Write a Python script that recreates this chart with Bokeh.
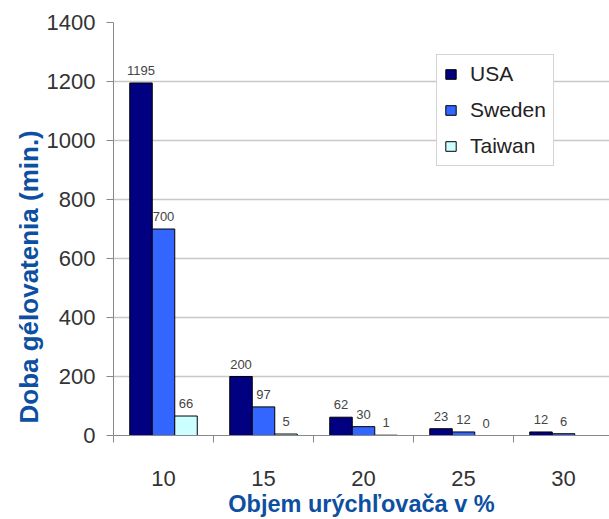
from bokeh.plotting import figure
from bokeh.models import ColumnDataSource, FixedTicker, Range1d, Title
from bokeh.core.properties import value
from bokeh.embed import file_html
from bokeh.resources import INLINE

categories = ["10", "15", "20", "25", "30"]
usa = [1195, 200, 62, 23, 12]
sweden = [700, 97, 30, 12, 6]
taiwan = [66, 5, 1, 0, None]
series_names = ["USA", "Sweden", "Taiwan"]
series_colors = ["#000080", "#3366ff", "#ccffff"]
y_ticks = [0, 200, 400, 600, 800, 1000, 1200, 1400]

FONT = "Liberation Sans"
TITLE_BLUE = "#0d4fa0"

p = figure(width=609, height=519, output_backend="svg", toolbar_location=None,
           x_range=Range1d(0.5, 5.46), y_range=Range1d(0, 1400),
           min_border_left=113, min_border_right=0, min_border_top=22, min_border_bottom=84)
p.outline_line_color = None
p.background_fill_color = "white"
p.xgrid.grid_line_color = None
p.ygrid.grid_line_color = "#c8c8c8"
p.ygrid.grid_line_width = 1.5

pos = list(range(1, len(categories) + 1))
bar_w = 0.225
offsets = [-bar_w, 0.0, bar_w]
all_series = [usa, sweden, taiwan]

for name, color, vals, off in zip(series_names, series_colors, all_series, offsets):
    xs = [x + off for x, v in zip(pos, vals) if v is not None]
    ys = [v for v in vals if v is not None]
    src = ColumnDataSource(dict(x=xs, top=ys, lab=[str(v) for v in ys]))
    p.vbar(x="x", top="top", width=bar_w, source=src, fill_color=color,
           line_color="black", line_width=1, legend_label=name)
    p.text(x="x", y="top", text="lab", source=src, text_align="center",
           text_baseline="bottom", y_offset=-8, text_font=value(FONT),
           text_font_size="13px", text_color="#444444")

# x axis
p.xaxis.ticker = FixedTicker(ticks=pos, minor_ticks=[x + 0.5 for x in [0] + pos])
p.xaxis.major_label_overrides = {x: c for x, c in zip(pos, categories)}
p.xaxis.major_tick_out = 0
p.xaxis.major_tick_in = 0
p.xaxis.minor_tick_out = 7
p.xaxis.minor_tick_in = 0
p.xaxis.minor_tick_line_color = "#888888"
p.xaxis.axis_line_color = "#888888"
p.xaxis.major_label_standoff = 28
p.xaxis.major_label_text_font = FONT
p.xaxis.major_label_text_font_size = "22px"
p.xaxis.major_label_text_color = "#333333"
p.xaxis.axis_label = "Objem urýchľovača v %"
p.xaxis.axis_label_text_font = FONT
p.xaxis.axis_label_text_font_style = "bold"
p.xaxis.axis_label_text_font_size = "23.5px"
p.xaxis.axis_label_text_color = TITLE_BLUE
p.xaxis.axis_label_standoff = 2

# y axis
p.yaxis.ticker = FixedTicker(ticks=y_ticks)
p.yaxis.minor_tick_line_color = None
p.yaxis.major_tick_out = 7
p.yaxis.major_tick_in = 0
p.yaxis.major_tick_line_color = "#888888"
p.yaxis.axis_line_color = "#888888"
p.yaxis.major_label_standoff = 11
p.yaxis.major_label_text_font = FONT
p.yaxis.major_label_text_font_size = "22px"
p.yaxis.major_label_text_color = "#333333"

ytitle = Title(text="Doba gélovatenia (min.)", align="left", offset=12,
               text_font=FONT, text_font_style="bold", text_font_size="26px",
               text_color=TITLE_BLUE, standoff=0)
p.add_layout(ytitle, "left")

# legend
lg = p.legend[0]
lg.location = (323, 269)
lg.label_text_font = FONT
lg.label_text_font_size = "21px"
lg.label_text_color = "#222222"
lg.glyph_width = 13
lg.glyph_height = 12
lg.label_height = 22
lg.label_standoff = 13
lg.spacing = 12
lg.padding = 7
lg.margin = 0
lg.border_line_color = "#a8a8a8"
lg.border_line_width = 1.5
lg.background_fill_color = "white"
lg.background_fill_alpha = 1.0

open("out.html", "w").write(file_html(p, INLINE))
